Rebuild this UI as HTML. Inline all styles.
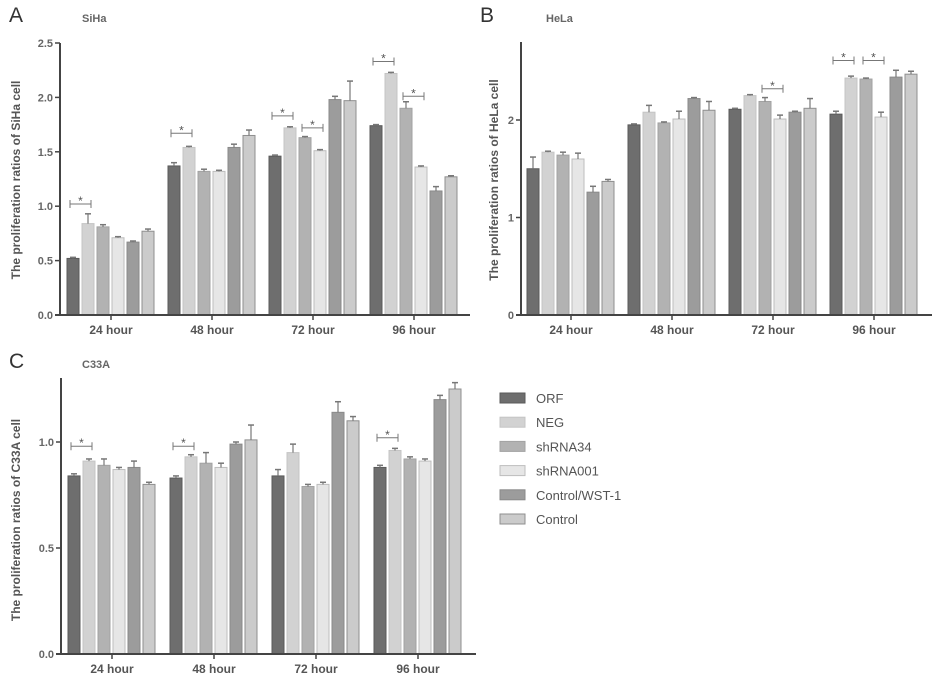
<!DOCTYPE html>
<html><head><meta charset="utf-8"><style>
html,body{margin:0;padding:0;background:#fff;}
svg{display:block;font-family:"Liberation Sans",Arial,sans-serif;}
</style></head><body>
<svg id="fig" width="945" height="686" viewBox="0 0 945 686" xmlns="http://www.w3.org/2000/svg"></svg>
<script>
const categories = ["24 hour","48 hour","72 hour","96 hour"];
const seriesNames = ["ORF","NEG","shRNA34","shRNA001","Control/WST-1","Control"];
// Panel A SiHa
const sihaORF = [0.52,1.37,1.46,1.74];
const sihaNEG = [0.84,1.54,1.72,2.22];
const sihaSh34 = [0.81,1.32,1.63,1.90];
const sihaSh001 = [0.71,1.32,1.51,1.36];
const sihaWST = [0.67,1.54,1.98,1.14];
const sihaCtrl = [0.77,1.65,1.97,1.27];
const sihaErr = [[0.01,0.03,0.01,0.01],[0.09,0.01,0.01,0.01],[0.02,0.02,0.01,0.06],[0.01,0.01,0.01,0.01],[0.01,0.03,0.03,0.04],[0.02,0.05,0.18,0.01]];
const sihaTicks = [0,0.5,1.0,1.5,2.0,2.5];
const sihaTickLabels = ["0.0","0.5","1.0","1.5","2.0","2.5"];
const sihaSig = [[0,0,1,1.02],[1,0,1,1.67],[2,0,1,1.83],[2,2,3,1.72],[3,0,1,2.33],[3,2,3,2.01]];
// Panel B HeLa
const helaORF = [1.50,1.95,2.11,2.06];
const helaNEG = [1.67,2.08,2.25,2.43];
const helaSh34 = [1.64,1.97,2.19,2.42];
const helaSh001 = [1.60,2.01,2.01,2.03];
const helaWST = [1.26,2.22,2.08,2.44];
const helaCtrl = [1.37,2.10,2.12,2.47];
const helaErr = [[0.12,0.01,0.01,0.03],[0.01,0.07,0.01,0.02],[0.03,0.01,0.04,0.01],[0.06,0.08,0.04,0.05],[0.06,0.01,0.01,0.07],[0.02,0.09,0.1,0.03]];
const helaTicks = [0,1,2];
const helaTickLabels = ["0","1","2"];
const helaSig = [[2,2,3,2.32],[3,0,1,2.61],[3,2,3,2.61]];
// Panel C C33A
const c33ORF = [0.84,0.83,0.84,0.88];
const c33NEG = [0.91,0.93,0.95,0.96];
const c33Sh34 = [0.89,0.90,0.79,0.92];
const c33Sh001 = [0.87,0.88,0.80,0.91];
const c33WST = [0.88,0.99,1.14,1.20];
const c33Ctrl = [0.80,1.01,1.10,1.25];
const c33Err = [[0.01,0.01,0.03,0.01],[0.01,0.01,0.04,0.01],[0.03,0.05,0.01,0.01],[0.01,0.02,0.01,0.01],[0.03,0.01,0.05,0.02],[0.01,0.07,0.02,0.03]];
const c33Ticks = [0,0.5,1.0];
const c33TickLabels = ["0.0","0.5","1.0"];
const c33Sig = [[0,0,1,0.98],[1,0,1,0.98],[3,0,1,1.02]];

const fills = ["#6e6e6e","#d2d2d2","#b2b2b2","#e6e6e6","#9c9c9c","#cbcbcb"];
const strokes = ["#5a5a5a","#c4c4c4","#a2a2a2","#bdbdbd","#8a8a8a","#8f8f8f"];
const NS = "http://www.w3.org/2000/svg";
const svg = document.getElementById("fig");
function mk(tag, attrs, parent){const e=document.createElementNS(NS,tag);for(const k in attrs)e.setAttribute(k,attrs[k]);(parent||svg).appendChild(e);return e;}

function panel(cfg){
  const g = mk("g",{});
  
  
  const yS = v => cfg.y0 - v*cfg.ppu;
  const xS = (ci, si) => cfg.g0 + ci*cfg.pitch + si*15;
  // letter and title
  const L = mk("text",{x:cfg.lx,y:cfg.ly,"font-size":21,fill:"#333"},g); L.textContent=cfg.letter;
  
  
  const T = mk("text",{x:cfg.tx,y:cfg.ly,"font-size":11,"font-weight":"bold",fill:"#666"},g); T.textContent=cfg.title;
  
  
  // bars
  cfg.series.forEach((vals, si) => {
    vals.forEach((v, ci) => {
      const x = xS(ci, si), y = yS(v);
      const r = mk("rect",{x:x,y:y,width:12,height:cfg.y0-y,fill:fills[si],stroke:strokes[si],"stroke-width":1},g);
      
      
      const e = cfg.err[si][ci];
      const ye = yS(v+e);
      mk("line",{x1:x+6,y1:y,x2:x+6,y2:ye,stroke:"#777","stroke-width":1.2},g);
      mk("line",{x1:x+3,y1:ye,x2:x+9,y2:ye,stroke:"#777","stroke-width":1.5},g);
    });
  });
  // axes
  const ya = mk("line",{x1:cfg.ax,y1:cfg.top,x2:cfg.ax,y2:cfg.y0+1,stroke:"#444","stroke-width":2},g);
  
  
  const xa = mk("line",{x1:cfg.ax-5,y1:cfg.y0,x2:cfg.xEnd,y2:cfg.y0,stroke:"#444","stroke-width":2},g);
  
  
  cfg.ticks.forEach((t, i) => {
    const y = yS(t);
    mk("line",{x1:cfg.ax-5,y1:y,x2:cfg.ax,y2:y,stroke:"#444","stroke-width":1.5},g);
    const tl = mk("text",{x:cfg.ax-7,y:y+4,"font-size":11,"text-anchor":"end",fill:"#666","font-weight":"bold"},g);
    tl.textContent = cfg.tickLabels[i];
    
    
  });
  categories.forEach((c, ci) => {
    const cx = cfg.g0 + ci*cfg.pitch + 44;
    mk("line",{x1:cx,y1:cfg.y0,x2:cx,y2:cfg.y0+5,stroke:"#444","stroke-width":1.5},g);
    const cl = mk("text",{x:cx,y:cfg.y0+19,"font-size":12,"text-anchor":"middle",fill:"#555","font-weight":"bold"},g);
    cl.textContent = c;
    
    
  });
  const yl = mk("text",{x:0,y:0,"font-size":12,"text-anchor":"middle",fill:"#555","font-weight":"bold",transform:`translate(${cfg.ylx},${cfg.yly}) rotate(-90)`},g);
  yl.textContent = cfg.ylabel;
  
  
  // significance
  cfg.sig.forEach(s => {
    const [ci,a,b,v] = s;
    const x1 = xS(ci,a)+3, x2 = xS(ci,b)+9, y = yS(v);
    const sg = mk("g",{},g);
    
    
    mk("line",{x1:x1,y1:y,x2:x2,y2:y,stroke:"#777","stroke-width":1},sg);
    mk("line",{x1:x1,y1:y-4,x2:x1,y2:y+4,stroke:"#777","stroke-width":1},sg);
    mk("line",{x1:x2,y1:y-4,x2:x2,y2:y+4,stroke:"#777","stroke-width":1},sg);
    const st = mk("text",{x:(x1+x2)/2,y:y+1,"font-size":12,"text-anchor":"middle",fill:"#555"},sg);
    st.textContent = "*";
  });
}

panel({key:"siha",letter:"A",title:"SiHa",lx:9,ly:22,tx:82,ax:60,y0:315,ppu:108.8,top:43,xEnd:470,g0:67,pitch:101,
  series:[sihaORF,sihaNEG,sihaSh34,sihaSh001,sihaWST,sihaCtrl],err:sihaErr,ticks:sihaTicks,tickLabels:sihaTickLabels,sig:sihaSig,
  ylabel:"The proliferation ratios of SiHa cell",ylx:20,yly:180});
panel({key:"hela",letter:"B",title:"HeLa",lx:480,ly:22,tx:546,ax:521,y0:315,ppu:97.5,top:42,xEnd:932,g0:527,pitch:101,
  series:[helaORF,helaNEG,helaSh34,helaSh001,helaWST,helaCtrl],err:helaErr,ticks:helaTicks,tickLabels:helaTickLabels,sig:helaSig,
  ylabel:"The proliferation ratios of HeLa cell",ylx:498,yly:180});
panel({key:"c33a",letter:"C",title:"C33A",lx:9,ly:368,tx:82,ax:61,y0:654,ppu:212,top:378,xEnd:476,g0:68,pitch:102,
  series:[c33ORF,c33NEG,c33Sh34,c33Sh001,c33WST,c33Ctrl],err:c33Err,ticks:c33Ticks,tickLabels:c33TickLabels,sig:c33Sig,
  ylabel:"The proliferation ratios of C33A cell",ylx:20,yly:520});

// legend
const lg = mk("g",{});


seriesNames.forEach((n, i) => {
  const y = 398 + i*24.2;
  const e = mk("g",{},lg);
  
  
  mk("rect",{x:500,y:y-5,width:25,height:10,fill:fills[i],stroke:strokes[i],"stroke-width":1},e);
  const t = mk("text",{x:536,y:y+5,"font-size":13,fill:"#555"},e);
  t.textContent = n;
});
</script>
</body></html>
